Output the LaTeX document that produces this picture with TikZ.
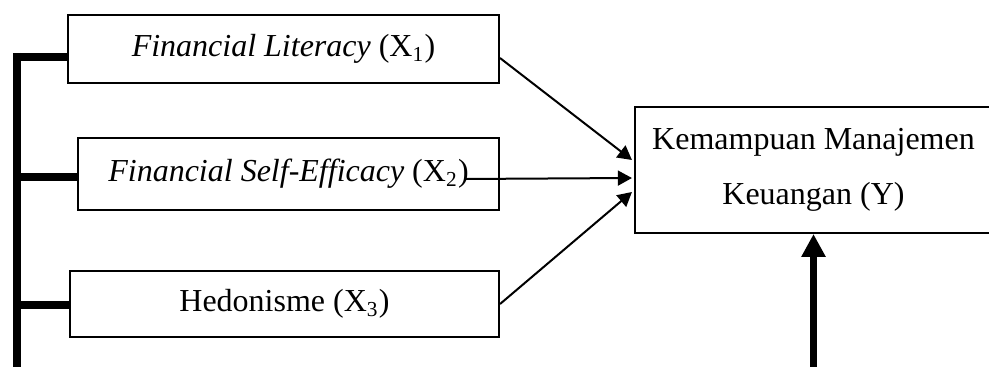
\documentclass[tikz,border=0pt]{standalone}
\usepackage{fontspec}
\setmainfont{Liberation Serif}
\usetikzlibrary{calc}
\usetikzlibrary{arrows.meta}

\begin{document}
\begin{tikzpicture}[x=0.375pt, y=-0.375pt,
  varbox/.style={draw, line width=0.75pt, inner sep=0pt, font=\fontsize{12}{14}\selectfont},
  link/.style={line width=0.75pt, -{Triangle[length=5.3pt, width=5.6pt]}},
  bus/.style={line width=2.7pt}]

  \useasboundingbox (0,0) rectangle (989,367);

  % independent variables:
  \node [varbox, minimum width=161.6pt, minimum height=25.5pt] (x1) at (283.5,49) {\textit{Financial Literacy} (X\textsubscript{1})};
  \node [varbox, minimum width=157.9pt, minimum height=27pt] (x2) at (288.5,174) {\textit{Financial Self-Efficacy} (X\textsubscript{2})};
  \node [varbox, minimum width=160.9pt, minimum height=24.75pt] (x3) at (284.5,304) {Hedonisme (X\textsubscript{3})};

  % dependent variable:
  \node [varbox, minimum width=133.9pt, minimum height=47.25pt, align=center,
         font=\fontsize{12}{20.6}\selectfont] (y) at (813.5,170) {Kemampuan Manajemen\\Keuangan (Y)};

  % partial effects:
  \coordinate (s1) at ($(x1.east)+(0,9)$);
  \coordinate (s2) at ($(x2.east)+(-36,5)$);
  \draw [link] (s1) -- ($(y.west)+(-2,-10)$);
  \draw [link] (s2) -- ($(y.west)+(-2,8)$);
  \draw [link] (x3.east) -- ($(y.west)+(-2,22)$);

  % simultaneous effect:
  \coordinate (bustop) at (17,53);
  \coordinate (busbot) at (17,371.5);
  \foreach \n/\d in {x1/8, x2/3, x3/1}
    \draw [bus] ($(\n.west)+(0,\d)$) coordinate (t\n) -- (t\n -| bustop);
  \draw [bus, -{Triangle[length=8.6pt, width=8.6pt]}] (bustop) -- (busbot) -- (busbot -| y.south) -- (y.south);

\end{tikzpicture}
\end{document}
